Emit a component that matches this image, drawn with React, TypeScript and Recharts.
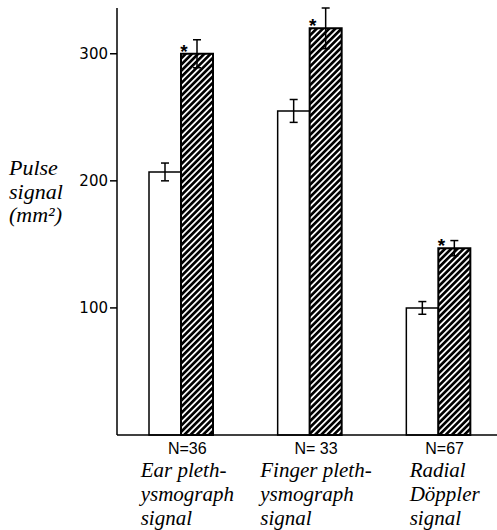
import { BarChart, Bar, XAxis, YAxis, ErrorBar, LabelList } from 'recharts';

// categories along the x axis
const categories = ['Ear', 'Finger', 'Radial'];
const sampleSizes = ['N=36', 'N= 33', 'N=67'];
const categoryLines = [
  ['Ear pleth-', 'ysmograph', 'signal'],
  ['Finger pleth-', 'ysmograph', 'signal'],
  ['Radial', 'Döppler', 'signal'],
];

// open bars
const openValues = [207, 255, 100];
const openErrors = [7, 9, 5];

// hatched bars
const hatchedValues = [300, 320, 147];
const hatchedErrors = [11, 16, 6];
const hatchedMarks = ['*', '*', '*'];

const yTicks = [100, 200, 300];
const yLabelLines = ['Pulse', 'signal', '(mm²)'];

const data = categories.map((name, i) => ({
  name,
  open: openValues[i],
  openErr: openErrors[i],
  hatched: hatchedValues[i],
  hatchedErr: hatchedErrors[i],
  mark: hatchedMarks[i],
}));

const AXIS_Y = 435;
const SERIF = 'Liberation Serif';
const SANS = 'Liberation Sans';
const LABEL_SIZE = 21;

const serifStyle = { fontFamily: SERIF, fontStyle: 'italic', fontSize: LABEL_SIZE };

let measureCtx: CanvasRenderingContext2D | null = null;
function textWidth(text: string) {
  if (!measureCtx) measureCtx = document.createElement('canvas').getContext('2d');
  if (!measureCtx) return text.length * 9;
  measureCtx.font = `italic ${LABEL_SIZE}px "${SERIF}"`;
  return measureCtx.measureText(text).width;
}

function CategoryTick({ x, payload }: any) {
  const i = categories.indexOf(payload.value);
  if (i < 0) return null;
  const cx = x + 6;
  const lines = categoryLines[i];
  const w = Math.max(...lines.map((l) => textWidth(l)));
  const left = cx - w / 2;
  return (
    <g>
      <text x={cx} y={AXIS_Y + 19} textAnchor="middle" style={{ fontFamily: SANS, fontSize: 16 }} fill="#000">
        {sampleSizes[i]}
      </text>
      {lines.map((l, k) => (
        <text key={k} x={left} y={AXIS_Y + 42 + k * 24} style={serifStyle} fill="#000">
          {l}
        </text>
      ))}
    </g>
  );
}

function YTitle() {
  return (
    <g>
      {yLabelLines.map((l, k) => (
        <text key={k} x={9} y={175 + k * 23.5} style={{ ...serifStyle, fontSize: 22 }} fill="#000">
          {l}
        </text>
      ))}
    </g>
  );
}

function StarMark(props: any) {
  const { x, y, value } = props;
  if (!value) return null;
  return (
    <text x={x + 3} y={y + 4} textAnchor="middle" style={{ fontFamily: SANS, fontWeight: 'bold', fontSize: 19 }} fill="#000">
      {value}
    </text>
  );
}

export default function App() {
  return (
    <div style={{ position: 'absolute', left: 0, top: 0, width: 497, height: 530, background: '#fff' }}>
      <BarChart
        width={497}
        height={530}
        data={data}
        margin={{ top: 8, right: -6, bottom: 0, left: 0 }}
        barGap={0}
        barSize={32}
      >
        <defs>
          <pattern id="hatch" patternUnits="userSpaceOnUse" width={4.4} height={4.4} patternTransform="rotate(45)">
            <rect width={4.4} height={4.4} fill="#fff" />
            <line x1={2.2} y1={0} x2={2.2} y2={4.4} stroke="#000" strokeWidth={2.7} />
          </pattern>
        </defs>
        <XAxis
          dataKey="name"
          height={530 - AXIS_Y}
          tickLine={false}
          axisLine={{ stroke: '#000', strokeWidth: 1.5 }}
          tick={<CategoryTick />}
          interval={0}
        />
        <YAxis
          width={117}
          domain={[0, 336]}
          ticks={yTicks}
          tickSize={7}
          tickMargin={2}
          axisLine={{ stroke: '#000', strokeWidth: 1.5 }}
          tickLine={{ stroke: '#000', strokeWidth: 1.5 }}
          tick={{ fill: '#000', fontSize: 15, fontFamily: 'DejaVu Sans' }}
          label={{ content: () => <YTitle /> }}
        />
        <Bar dataKey="open" fill="#fff" stroke="#000" strokeWidth={1.5} isAnimationActive={false}>
          <ErrorBar dataKey="openErr" width={4} stroke="#000" strokeWidth={1.5} />
        </Bar>
        <Bar dataKey="hatched" fill="url(#hatch)" stroke="#000" strokeWidth={2} isAnimationActive={false}>
          <ErrorBar dataKey="hatchedErr" width={4} stroke="#000" strokeWidth={1.5} />
          <LabelList dataKey="mark" content={<StarMark />} />
        </Bar>
      </BarChart>
    </div>
  );
}
